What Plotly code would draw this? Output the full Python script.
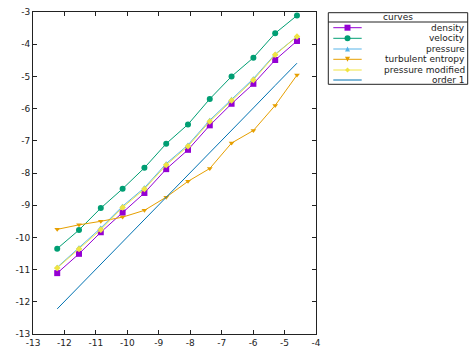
import plotly.graph_objects as go

# log(h) values
x_vals = [-12.230, -11.537, -10.844, -10.150, -9.457, -8.764, -8.071, -7.378, -6.685, -5.991, -5.298, -4.605]

density = [-11.11, -10.51, -9.84, -9.23, -8.62, -7.88, -7.28, -6.52, -5.85, -5.23, -4.49, -3.90]
velocity = [-10.35, -9.77, -9.09, -8.49, -7.84, -7.09, -6.49, -5.70, -5.00, -4.42, -3.66, -3.11]
pressure = [-10.93, -10.32, -9.71, -9.03, -8.46, -7.71, -7.13, -6.36, -5.71, -5.07, -4.31, -3.76]
turbulent_entropy = [-9.75, -9.61, -9.50, -9.37, -9.16, -8.75, -8.26, -7.86, -7.07, -6.68, -5.90, -4.96]
pressure_modified = [-10.95, -10.36, -9.76, -9.07, -8.50, -7.75, -7.17, -6.40, -5.75, -5.11, -4.33, -3.76]
order1 = [-12.22, -11.53, -10.83, -10.14, -9.44, -8.75, -8.06, -7.36, -6.67, -5.98, -5.28, -4.59]

x_ticks = [-13, -12, -11, -10, -9, -8, -7, -6, -5, -4]
y_ticks = [-13, -12, -11, -10, -9, -8, -7, -6, -5, -4, -3]

legend_title = "curves"
series_names = ["density", "velocity", "pressure", "turbulent entropy", "pressure modified", "order 1"]
colors = ["#9400D3", "#009E73", "#56B4E9", "#E69F00", "#F0E442", "#0072B2"]
symbols = ["square", "circle", "triangle-up", "triangle-down", "diamond", None]
sizes = [6, 6, 5, 5, 5, 0]
series = [density, velocity, pressure, turbulent_entropy, pressure_modified, order1]

FONT = "DejaVu Sans"
fig = go.Figure()

for name, ys, col, sym, sz in zip(series_names, series, colors, symbols, sizes):
    if sym is None:
        fig.add_trace(go.Scatter(x=x_vals, y=ys, mode="lines", name=name,
                                 line=dict(color=col, width=1), showlegend=False))
    else:
        fig.add_trace(go.Scatter(x=x_vals, y=ys, mode="lines+markers", name=name,
                                 line=dict(color=col, width=1),
                                 marker=dict(symbol=sym, size=sz, color=col, line=dict(width=0)),
                                 showlegend=False))

W_FIG, H_FIG = 474, 355
P_L, P_R, P_T, P_B = 33, 316, 12, 334
PW = P_R - P_L
PH = P_B - P_T


def px(x):
    return (x - P_L) / PW


def py(y):
    return (P_B - y) / PH


shapes = []
annotations = []
# legend box
shapes.append(dict(type="rect", xref="paper", yref="paper",
                   x0=px(328.3), x1=px(467.7), y0=py(12.7), y1=py(84.3),
                   line=dict(color="#222222", width=1), fillcolor="rgba(0,0,0,0)", layer="above"))
shapes.append(dict(type="line", xref="paper", yref="paper",
                   x0=px(328.3), x1=px(467.7), y0=py(22), y1=py(22),
                   line=dict(color="#222222", width=1)))
annotations.append(dict(text=legend_title, xref="paper", yref="paper", x=px(398), y=py(17.2),
                        xanchor="center", yanchor="middle", showarrow=False,
                        font=dict(family=FONT, size=9, color="#222222")))

entry_y = [27.7, 38.3, 49, 59.3, 70, 80]
mx = 347.5
for name, col, sym, sz, ey in zip(series_names, colors, symbols, sizes, entry_y):
    shapes.append(dict(type="line", xref="paper", yref="paper",
                       x0=px(333.3), x1=px(361.7), y0=py(ey), y1=py(ey),
                       line=dict(color=col, width=1)))
    h = sz / 2.0
    if sym == "square":
        shapes.append(dict(type="rect", xref="paper", yref="paper",
                           x0=px(mx - h), x1=px(mx + h), y0=py(ey + h), y1=py(ey - h),
                           fillcolor=col, line=dict(width=0)))
    elif sym == "circle":
        shapes.append(dict(type="circle", xref="paper", yref="paper",
                           x0=px(mx - h), x1=px(mx + h), y0=py(ey + h), y1=py(ey - h),
                           fillcolor=col, line=dict(width=0)))
    elif sym == "triangle-up":
        path = f"M {px(mx - h)},{py(ey + h)} L {px(mx + h)},{py(ey + h)} L {px(mx)},{py(ey - h)} Z"
        shapes.append(dict(type="path", xref="paper", yref="paper", path=path,
                           fillcolor=col, line=dict(width=0)))
    elif sym == "triangle-down":
        path = f"M {px(mx - h)},{py(ey - h)} L {px(mx + h)},{py(ey - h)} L {px(mx)},{py(ey + h)} Z"
        shapes.append(dict(type="path", xref="paper", yref="paper", path=path,
                           fillcolor=col, line=dict(width=0)))
    elif sym == "diamond":
        path = (f"M {px(mx - h)},{py(ey)} L {px(mx)},{py(ey - h)} "
                f"L {px(mx + h)},{py(ey)} L {px(mx)},{py(ey + h)} Z")
        shapes.append(dict(type="path", xref="paper", yref="paper", path=path,
                           fillcolor=col, line=dict(width=0)))
    annotations.append(dict(text=name, xref="paper", yref="paper", x=px(466.5), y=py(ey),
                            xanchor="right", yanchor="middle", showarrow=False,
                            font=dict(family=FONT, size=9, color="#222222")))

axis_common = dict(showgrid=False, zeroline=False, showline=True, linecolor="#222222",
                   linewidth=1, mirror="ticks", ticks="inside", ticklen=4, tickcolor="#222222",
                   automargin=False,
                   tickfont=dict(family=FONT, size=9, color="#222222"))

fig.update_layout(
    template="none",
    width=W_FIG, height=H_FIG,
    margin=dict(l=P_L, r=W_FIG - P_R, t=P_T, b=H_FIG - P_B, pad=0),
    paper_bgcolor="white", plot_bgcolor="white",
    xaxis=dict(range=[-13, -4], tickvals=x_ticks, ticktext=[str(v) for v in x_ticks], **axis_common),
    yaxis=dict(range=[-13, -3], tickvals=y_ticks, ticktext=[str(v) for v in y_ticks], **axis_common),
    shapes=shapes, annotations=annotations, showlegend=False,
)

fig.write_html("out.html",
               config={"displayModeBar": False},
               post_script="document.body.style.margin='0';document.body.style.overflow='hidden';")
